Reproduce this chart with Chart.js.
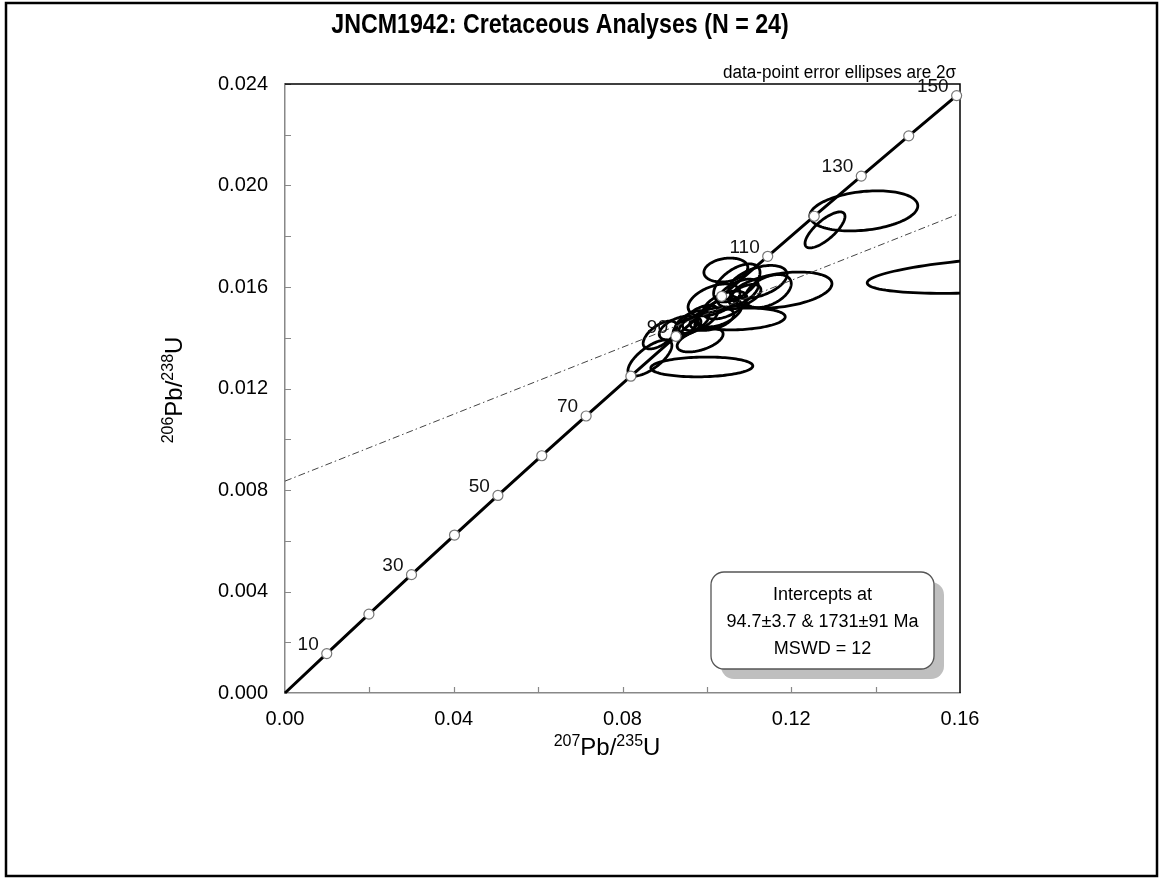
<!DOCTYPE html>
<html><head><meta charset="utf-8">
<script src="https://cdn.jsdelivr.net/npm/chart.js@4.4.1/dist/chart.umd.min.js"></script>
<style>html,body{margin:0;padding:0;background:#fff}#wrap{width:1160px;height:879px;position:relative}</style>
</head><body><div id="wrap"><canvas id="c" width="1160" height="879"></canvas></div>
<script>
// ---- data ----
const concAges = [0,10,20,30,40,50,60,70,80,90,100,110,120,130,140,150];
const concX = [0,0.009897,0.019892,0.029986,0.04018,0.05047,0.06087,0.07138,0.08198,0.09268,0.10350,0.11442,0.12545,0.13660,0.14785,0.15920];
const concY = [0,0.0015525,0.0031074,0.0046646,0.0062242,0.0077862,0.0093505,0.010917,0.012486,0.014058,0.015633,0.017210,0.018789,0.020371,0.021956,0.023543];
const labelledAges = [10,30,50,70,90,110,130,150];
const discX = [0, 0.16];
const discY = [0.00835, 0.0189];
// error ellipses (2 sigma): centre, half-extent in x and y, correlation
const ellCX = [0.171,0.1372,0.1280,0.1045,0.1178,0.1079,0.0988,0.0865,0.0889,0.0984,0.1017,0.1071,0.1121,0.1145,0.1031,0.0965,0.0960,0.0984,0.0946,0.0932,0.1012,0.1074,0.1043,0.1090];
const ellCY = [0.0165,0.01900,0.01825,0.01667,0.01588,0.01474,0.01285,0.01320,0.01411,0.01391,0.01549,0.01616,0.01620,0.01584,0.01498,0.01462,0.01446,0.01478,0.01438,0.01438,0.01474,0.01576,0.01529,0.01568];
const ellSX = [0.033,0.0128,0.00474,0.00521,0.01185,0.01067,0.01209,0.00521,0.0040,0.00545,0.00616,0.0055,0.0069,0.0055,0.0052,0.0040,0.00260,0.0042,0.00260,0.0045,0.00521,0.0048,0.0052,0.00380];
const ellSY = [0.00075,0.00079,0.00071,0.00047,0.00071,0.00043,0.00039,0.00071,0.00055,0.00047,0.00063,0.00075,0.00065,0.00065,0.00055,0.00045,0.00034,0.00050,0.00037,0.00047,0.00045,0.00055,0.00055,0.00042];
const ellRho = [0.45,0.25,0.75,0.2,0.35,0.2,0.1,0.7,0.6,0.5,0.45,0.55,0.45,0.45,0.5,0.55,0.5,0.55,0.5,0.5,0.4,0.55,0.5,0.5];
const xTickVals = [0,0.04,0.08,0.12,0.16];
const yTickVals = [0,0.004,0.008,0.012,0.016,0.020,0.024];
const xMinorVals = [0.02,0.06,0.10,0.14];
const yMinorVals = [0.002,0.006,0.010,0.014,0.018,0.022];
const titleText = 'JNCM1942: Cretaceous Analyses (N = 24)';
const noteText = 'data-point error ellipses are 2σ';
const boxLines = ['Intercepts at','94.7±3.7 & 1731±91 Ma','MSWD = 12'];
const xTitle = [['207',true],['Pb/',false],['235',true],['U',false]];
const yTitle = [['206',true],['Pb/',false],['238',true],['U',false]];

const FONT = '"Liberation Sans", Arial, sans-serif';
Chart.defaults.font.family = FONT;
Chart.defaults.color = '#000';

function drawSup(ctx, parts, bigSize, supSize, raise) {
  let w = 0;
  for (const [t, sup] of parts) {
    ctx.font = (sup ? supSize : bigSize) + 'px ' + FONT;
    w += ctx.measureText(t).width;
  }
  let x = -w / 2;
  for (const [t, sup] of parts) {
    ctx.font = (sup ? supSize : bigSize) + 'px ' + FONT;
    ctx.fillText(t, x, sup ? -raise : 0);
    x += ctx.measureText(t).width;
  }
}

const ellipsePlugin = {
  id: 'ellipses',
  beforeDatasetsDraw(chart) {
    const {ctx, chartArea: a, scales: {x, y}} = chart;
    ctx.save();
    ctx.beginPath(); ctx.rect(a.left, a.top, a.right - a.left, a.bottom - a.top); ctx.clip();
    ctx.strokeStyle = '#000'; ctx.lineWidth = 2.8;
    for (let i = 0; i < ellCX.length; i++) {
      const r = ellRho[i], q = Math.sqrt(1 - r * r);
      ctx.beginPath();
      for (let k = 0; k <= 120; k++) {
        const t = k / 120 * Math.PI * 2;
        const vx = ellCX[i] + ellSX[i] * Math.cos(t);
        const vy = ellCY[i] + ellSY[i] * (r * Math.cos(t) + q * Math.sin(t));
        const px = x.getPixelForValue(vx), py = y.getPixelForValue(vy);
        if (k === 0) ctx.moveTo(px, py); else ctx.lineTo(px, py);
      }
      ctx.closePath(); ctx.stroke();
    }
    ctx.restore();
  }
};

const decorPlugin = {
  id: 'decor',
  beforeDatasetsDraw(chart) {
    const {ctx, chartArea: a, scales: {x, y}} = chart;
    ctx.save();
    ctx.strokeStyle = '#888'; ctx.lineWidth = 1.2;
    ctx.beginPath();
    for (const v of xTickVals.concat(xMinorVals)) {
      if (v === 0 || v === 0.16) continue;
      const px = Math.round(x.getPixelForValue(v)) + 0.5;
      ctx.moveTo(px, a.bottom); ctx.lineTo(px, a.bottom - 6);
    }
    for (const v of yTickVals.concat(yMinorVals)) {
      if (v === 0) continue;
      const py = Math.round(y.getPixelForValue(v)) + 0.5;
      ctx.moveTo(a.left, py); ctx.lineTo(a.left + 6, py);
    }
    ctx.stroke();
    ctx.strokeStyle = '#000'; ctx.lineWidth = 1.5;
    ctx.beginPath();
    ctx.moveTo(a.left, a.top); ctx.lineTo(a.right, a.top); ctx.lineTo(a.right, a.bottom);
    ctx.stroke();
    ctx.restore();
  },
  afterDatasetsDraw(chart) {
    const {ctx, chartArea: a, scales: {x, y}} = chart;
    ctx.save();
    // age labels
    ctx.fillStyle = '#111';
    ctx.font = '19px ' + FONT;
    ctx.textAlign = 'right'; ctx.textBaseline = 'middle';
    for (const age of labelledAges) {
      const i = concAges.indexOf(age);
      const px = x.getPixelForValue(concX[i]), py = y.getPixelForValue(concY[i]);
      ctx.fillText(String(age), px - 8, py - 9);
    }
    // intercept box
    const bx = 711, by = 572, bw = 223, bh = 97, rr = 13;
    ctx.fillStyle = '#bfbfbf';
    ctx.beginPath(); ctx.roundRect(bx + 10, by + 10, bw, bh, rr); ctx.fill();
    ctx.fillStyle = '#fff'; ctx.strokeStyle = '#555'; ctx.lineWidth = 1.3;
    ctx.beginPath(); ctx.roundRect(bx, by, bw, bh, rr); ctx.fill(); ctx.stroke();
    ctx.fillStyle = '#000'; ctx.textAlign = 'center'; ctx.textBaseline = 'middle';
    ctx.font = '18px ' + FONT;
    boxLines.forEach((t, k) => ctx.fillText(t, bx + bw / 2, by + 23 + k * 27));
    // title (condensed bold)
    ctx.textBaseline = 'alphabetic';
    ctx.save(); ctx.translate(560, 33); ctx.scale(0.86, 1);
    ctx.font = 'bold 27px ' + FONT; ctx.textAlign = 'center';
    ctx.fillText(titleText, 0, 0); ctx.restore();
    // note
    ctx.save(); ctx.translate(956, 78); ctx.scale(0.95, 1);
    ctx.font = '18px ' + FONT; ctx.textAlign = 'right';
    ctx.fillText(noteText, 0, 0); ctx.restore();
    // axis titles
    ctx.textAlign = 'left';
    ctx.save(); ctx.translate(607, 755); drawSup(ctx, xTitle, 24, 16, 9); ctx.restore();
    ctx.save(); ctx.translate(182, 390); ctx.rotate(-Math.PI / 2); drawSup(ctx, yTitle, 24, 16, 9); ctx.restore();
    // outer frame
    ctx.strokeStyle = '#000'; ctx.lineWidth = 2.5;
    ctx.strokeRect(6, 3, 1151, 873);
    ctx.restore();
  }
};

new Chart(document.getElementById('c'), {
  type: 'scatter',
  data: {
    datasets: [
      {
        type: 'line', label: 'Concordia', order: 0,
        data: concX.map((v, i) => ({x: v, y: concY[i]})),
        borderColor: '#000', borderWidth: 3, tension: 0, fill: false,
        pointRadius: concAges.map(a => a === 0 ? 0 : 5),
        pointBackgroundColor: '#fff', pointBorderColor: '#777', pointBorderWidth: 1.2,
        clip: 8
      },
      {
        type: 'line', label: 'Discordia', order: 1,
        data: discX.map((v, i) => ({x: v, y: discY[i]})),
        borderColor: '#444', borderWidth: 1, borderDash: [7, 3, 1.5, 3],
        pointRadius: 0, fill: false
      }
    ]
  },
  options: {
    responsive: false, animation: false,
    layout: {padding: {left: 0, right: 200, top: 84, bottom: 146}},
    plugins: {legend: {display: false}, title: {display: false}, tooltip: {enabled: false}},
    scales: {
      x: {
        type: 'linear', min: 0, max: 0.16,
        afterFit(s) { s.height = 40; },
        afterBuildTicks(s) { s.ticks = xTickVals.map(v => ({value: v})); },
        grid: {display: false, drawTicks: false},
        border: {display: true, color: '#888', width: 1.5},
        ticks: {padding: 14, font: {size: 20}, color: '#000', maxRotation: 0, callback: v => Number(v).toFixed(2)}
      },
      y: {
        type: 'linear', min: 0, max: 0.024,
        afterFit(s) { s.width = 285; },
        afterBuildTicks(s) { s.ticks = yTickVals.map(v => ({value: v})); },
        grid: {display: false, drawTicks: false},
        border: {display: true, color: '#888', width: 1.5},
        ticks: {padding: 17, font: {size: 20}, color: '#000', callback: v => Number(v).toFixed(3)}
      }
    }
  },
  plugins: [ellipsePlugin, decorPlugin]
});
</script></body></html>
